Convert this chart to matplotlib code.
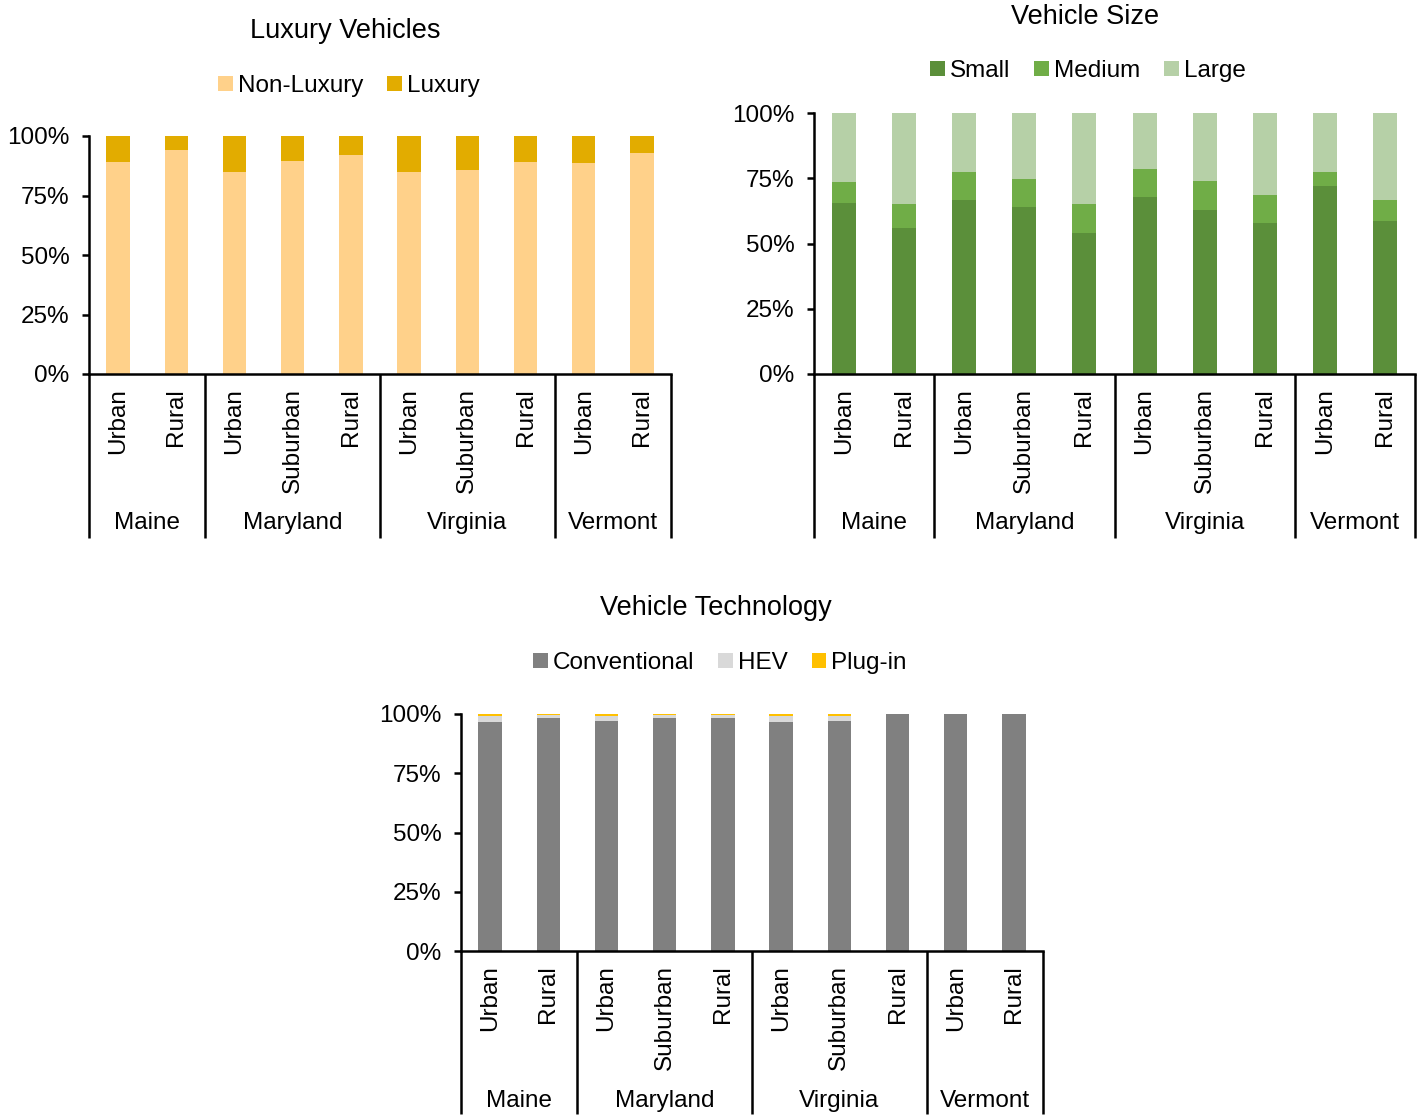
import matplotlib
matplotlib.use("Agg")
import matplotlib.pyplot as plt
from matplotlib.patches import Patch
from matplotlib.transforms import ScaledTranslation
import numpy as np

plt.rcParams['font.family'] = ['Liberation Sans', 'DejaVu Sans']

# ---------------- data ----------------
categories = ['Urban', 'Rural', 'Urban', 'Suburban', 'Rural',
              'Urban', 'Suburban', 'Rural', 'Urban', 'Rural']
states = ['Maine', 'Maryland', 'Virginia', 'Vermont']
group_sizes = [2, 3, 3, 2]

non_luxury = [89.1, 94.0, 84.9, 89.6, 91.9, 84.9, 85.9, 89.1, 88.5, 92.9]
luxury = [10.9, 6.0, 15.1, 10.4, 8.1, 15.1, 14.1, 10.9, 11.5, 7.1]

small = [65.7, 55.9, 66.8, 63.8, 54.0, 67.8, 62.8, 57.9, 72.1, 58.8]
medium = [7.8, 9.3, 10.7, 10.8, 11.2, 10.7, 11.2, 10.8, 5.4, 8.0]
large = [26.5, 34.8, 22.5, 25.4, 34.8, 21.5, 26.0, 31.3, 22.5, 33.2]

conventional = [96.6, 98.2, 97.2, 98.2, 98.2, 96.6, 97.2, 100.0, 100.0, 100.0]
hev = [2.7, 1.3, 2.1, 1.3, 1.3, 2.7, 2.1, 0.0, 0.0, 0.0]
plugin = [0.7, 0.5, 0.7, 0.5, 0.5, 0.7, 0.7, 0.0, 0.0, 0.0]

yticks = [0, 25, 50, 75, 100]
ytick_labels = ['0%', '25%', '50%', '75%', '100%']

W, H = 1424, 1116
DPI = 100
fig = plt.figure(figsize=(W / DPI, H / DPI), dpi=DPI)

FS = 17.5
TFS = 19.5


def axes_rect(x0, x1, ytop, ybot):
    return [x0 / W, 1 - ybot / H, (x1 - x0) / W, (ybot - ytop) / H]


def draw(rect, series, names, colors, title, title_xy, legend_xy,
         sep_depth, group_y, sub_y):
    ax = fig.add_axes(rect)
    n = len(categories)
    x = np.arange(n) + 0.5
    bottom = np.zeros(n)
    for vals, c in zip(series, colors):
        v = np.array(vals, dtype=float)
        ax.bar(x, v, width=0.4, bottom=bottom, color=c, edgecolor='none', zorder=2)
        bottom += v
    ax.set_xlim(0, n)
    ax.set_ylim(0, 100)
    ax.set_yticks(yticks)
    ax.set_yticklabels(ytick_labels, fontsize=FS)
    ax.set_xticks([])
    for s in ['top', 'right']:
        ax.spines[s].set_visible(False)
    for s in ['left', 'bottom']:
        ax.spines[s].set_linewidth(1.8)
        ax.spines[s].set_color('black')
    ax.tick_params(axis='y', length=5, width=1.8, pad=9, direction='out')

    trans = ax.get_xaxis_transform()
    # category labels (rotated)
    off_sub = ScaledTranslation(0, -sub_y / DPI, fig.dpi_scale_trans)
    for xi, lab in zip(x, categories):
        ax.text(xi, 0, lab, rotation=90, ha='center', va='top', fontsize=FS,
                transform=trans + off_sub, clip_on=False)
    # group separators & labels
    bounds = np.concatenate([[0], np.cumsum(group_sizes)])
    ax_h_px = rect[3] * H
    for b in bounds:
        ax.plot([b, b], [0, -sep_depth / ax_h_px], color='black', lw=1.8,
                transform=trans, clip_on=False, solid_capstyle='butt')
    off_grp = ScaledTranslation(0, -group_y / DPI, fig.dpi_scale_trans)
    for i, st in enumerate(states):
        cx = (bounds[i] + bounds[i + 1]) / 2
        ax.text(cx, 0, st, ha='center', va='center', fontsize=FS,
                transform=trans + off_grp, clip_on=False)

    fig.text(title_xy[0] / W, 1 - title_xy[1] / H, title, ha='center',
             va='center', fontsize=TFS)
    handles = [Patch(facecolor=c, edgecolor='none', label=nm)
               for nm, c in zip(names, colors)]
    fig.legend(handles=handles, loc='center',
               bbox_to_anchor=(legend_xy[0] / W, 1 - legend_xy[1] / H),
               ncol=len(names), frameon=False, fontsize=FS,
               handlelength=0.6, handleheight=0.6, handletextpad=0.2,
               columnspacing=1.0, borderpad=0)
    return ax


draw(axes_rect(89, 671, 136, 374), [non_luxury, luxury],
     ['Non-Luxury', 'Luxury'], ['#FFD18A', '#E2AC00'],
     'Luxury Vehicles', (345, 31), (349, 86), 164, 149, 14)

draw(axes_rect(814, 1415, 113, 374), [small, medium, large],
     ['Small', 'Medium', 'Large'], ['#5B8F3A', '#70AD47', '#B6D0A7'],
     'Vehicle Size', (1085, 17), (1088, 71), 164, 149, 14)

draw(axes_rect(461, 1043, 714, 951), [conventional, hev, plugin],
     ['Conventional', 'HEV', 'Plug-in'], ['#808080', '#D9D9D9', '#FFC000'],
     'Vehicle Technology', (716, 608), (720, 663), 163, 150, 14)

fig.savefig('out.png', dpi=DPI)
